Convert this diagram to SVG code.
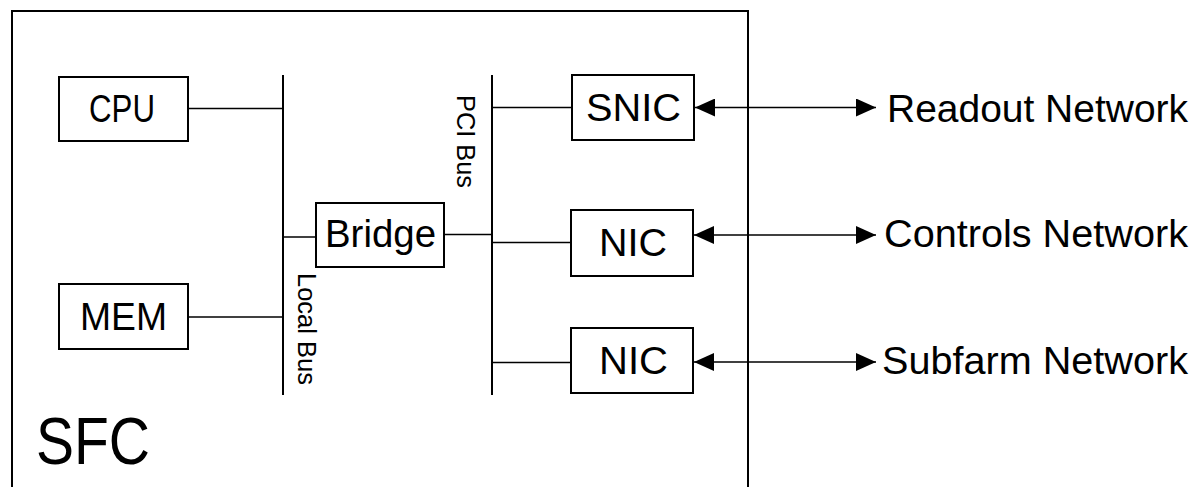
<svg xmlns="http://www.w3.org/2000/svg" width="1198" height="487" viewBox="0 0 1198 487">
<defs>
<style>
.box{fill:#fff;stroke:#000;stroke-width:2}
.ln{stroke:#000;stroke-width:1.6;fill:none}
.bus{stroke:#000;stroke-width:2;fill:none}
.t{font-family:"Liberation Sans",Arial,sans-serif;font-size:38px;fill:#000}
.s{font-family:"Liberation Sans",Arial,sans-serif;font-size:26px;fill:#000}
</style>
<marker id="ah" viewBox="0 0 20 18" refX="20" refY="9" markerWidth="20" markerHeight="18" markerUnits="userSpaceOnUse" orient="auto-start-reverse">
<path d="M0,0 L20,9 L0,18 Z" fill="#000"/>
</marker>
</defs>
<rect x="0" y="0" width="1198" height="487" fill="#fff"/>
<g id="sfc">
<rect x="12" y="11" width="736" height="500" fill="none" stroke="#000" stroke-width="2"/>
<text class="t" x="36" y="464" style="font-size:66px" textLength="114" lengthAdjust="spacingAndGlyphs">SFC</text>
</g>
<g id="connectors">
<line class="bus" x1="283" y1="75" x2="283" y2="395"/>
<line class="bus" x1="492" y1="75" x2="492" y2="395"/>
<line class="ln" x1="188" y1="108.5" x2="283" y2="108.5"/>
<line class="ln" x1="188" y1="317" x2="283" y2="317"/>
<line class="ln" x1="283" y1="237" x2="316" y2="237"/>
<line class="ln" x1="444" y1="234.5" x2="492" y2="234.5"/>
<line class="ln" x1="492" y1="107.5" x2="572" y2="107.5"/>
<line class="ln" x1="492" y1="242.5" x2="571" y2="242.5"/>
<line class="ln" x1="492" y1="362.5" x2="571" y2="362.5"/>
<line class="ln" x1="695" y1="107.5" x2="876" y2="107.5" marker-start="url(#ah)" marker-end="url(#ah)"/>
<line class="ln" x1="694" y1="235" x2="876" y2="235" marker-start="url(#ah)" marker-end="url(#ah)"/>
<line class="ln" x1="694" y1="362" x2="876" y2="362" marker-start="url(#ah)" marker-end="url(#ah)"/>
</g>
<g id="local-bus-label">
<text class="s" transform="translate(298,273) rotate(90)" x="0" y="0" textLength="112" lengthAdjust="spacingAndGlyphs">Local Bus</text>
</g>
<g id="pci-bus-label">
<text class="s" transform="translate(457,95) rotate(90)" x="0" y="0" textLength="93" lengthAdjust="spacingAndGlyphs">PCI Bus</text>
</g>
<g id="cpu">
<rect class="box" x="59" y="77" width="129" height="64"/>
<text class="t" x="89" y="122" textLength="66" lengthAdjust="spacingAndGlyphs">CPU</text>
</g>
<g id="mem">
<rect class="box" x="59" y="284" width="129" height="65"/>
<text class="t" x="80" y="330" textLength="87" lengthAdjust="spacingAndGlyphs">MEM</text>
</g>
<g id="bridge">
<rect class="box" x="316" y="203" width="128" height="64"/>
<text class="t" x="325" y="247" textLength="111" lengthAdjust="spacingAndGlyphs">Bridge</text>
</g>
<g id="snic">
<rect class="box" x="572" y="75" width="122" height="65"/>
<text class="t" x="586" y="121" textLength="95" lengthAdjust="spacingAndGlyphs">SNIC</text>
</g>
<g id="nic1">
<rect class="box" x="571" y="210" width="122" height="66"/>
<text class="t" x="599" y="256" textLength="68" lengthAdjust="spacingAndGlyphs">NIC</text>
</g>
<g id="nic2">
<rect class="box" x="571" y="328" width="122" height="65"/>
<text class="t" x="599" y="374" textLength="69" lengthAdjust="spacingAndGlyphs">NIC</text>
</g>
<g id="readout-network">
<text class="t" x="887" y="122" textLength="301" lengthAdjust="spacingAndGlyphs">Readout Network</text>
</g>
<g id="controls-network">
<text class="t" x="884" y="247" textLength="304" lengthAdjust="spacingAndGlyphs">Controls Network</text>
</g>
<g id="subfarm-network">
<text class="t" x="882" y="374" textLength="306" lengthAdjust="spacingAndGlyphs">Subfarm Network</text>
</g>
</svg>
